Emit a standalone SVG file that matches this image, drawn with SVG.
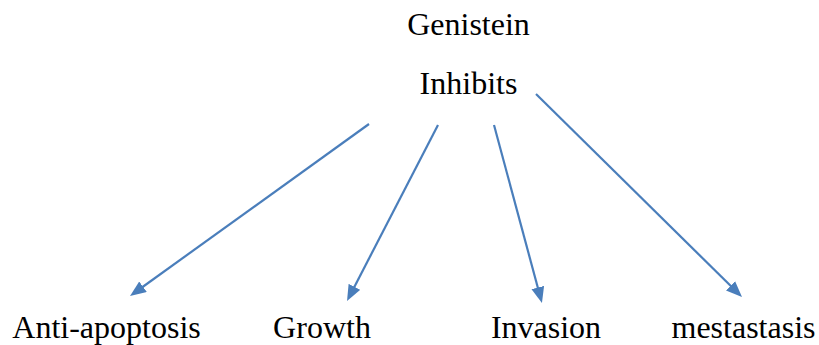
<svg xmlns="http://www.w3.org/2000/svg" width="819" height="345" viewBox="0 0 819 345">
  <style>
    .lbl { font-family: "Liberation Serif", "Times New Roman", Times, serif; font-size: 32px; fill: #000; text-anchor: middle; }
    .edge { stroke: #4A7EBB; stroke-width: 2.2; fill: none; marker-end: url(#arrow); }
  </style>
  <defs>
    <marker id="arrow" markerUnits="userSpaceOnUse" markerWidth="17" markerHeight="14" refX="10" refY="6.5" orient="auto">
      <path d="M0,0 L16,6.5 L0,13 z" fill="#4A7EBB"/>
    </marker>
  </defs>
  <rect width="819" height="345" fill="#fff"/>
  <g id="genistein"><text class="lbl" font-family="Liberation Serif, serif" x="468.5" y="35">Genistein</text></g>
  <g id="inhibits"><text class="lbl" font-family="Liberation Serif, serif" x="468.5" y="94">Inhibits</text></g>
  <g id="anti-apoptosis"><text class="lbl" font-family="Liberation Serif, serif" x="106.5" y="338">Anti-apoptosis</text></g>
  <g id="growth"><text class="lbl" font-family="Liberation Serif, serif" x="322" y="338">Growth</text></g>
  <g id="invasion"><text class="lbl" font-family="Liberation Serif, serif" x="546" y="338">Invasion</text></g>
  <g id="mestastasis"><text class="lbl" font-family="Liberation Serif, serif" x="743.5" y="338">mestastasis</text></g>
  <g id="connectors">
    <line class="edge" x1="369" y1="124" x2="134.9" y2="292.5"/>
    <line class="edge" x1="438" y1="125" x2="349.8" y2="295.7"/>
    <line class="edge" x1="494" y1="125" x2="540.4" y2="297.2"/>
    <line class="edge" x1="536" y1="94" x2="737.7" y2="292.8"/>
  </g>
</svg>
